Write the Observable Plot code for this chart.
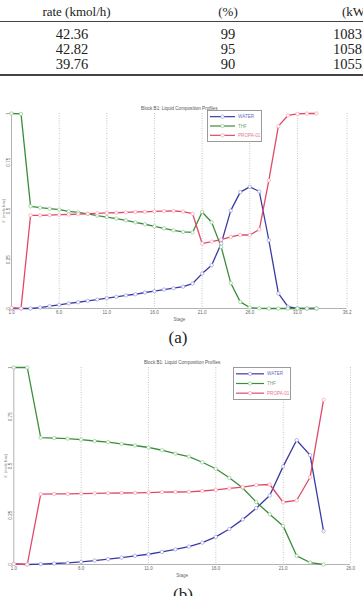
<!DOCTYPE html>
<html>
<head>
<meta charset="utf-8">
<script src="https://cdn.jsdelivr.net/npm/d3@7"></script>
<script src="https://cdn.jsdelivr.net/npm/@observablehq/plot@0.6"></script>
<style>
  html, body { margin: 0; padding: 0; background: #fff; }
  body { width: 363px; height: 596px; position: relative; overflow: hidden;
         font-family: "Liberation Serif", "Times New Roman", serif; color: #222; }
  .abs { position: absolute; }
  .cell { position: absolute; white-space: nowrap; line-height: 12px; height: 12px; }
  .head { font-size: 13px; }
  .val { font-size: 14.5px; }
  .rule { position: absolute; left: 0; width: 363px; background: #444; }
  .caption { position: absolute; font-size: 17px; line-height: 17px; transform: translate(-50%, -50%); white-space: nowrap; }
  .legend { position: absolute; background: #fff; border: 0.8px solid #9a9a9a; box-sizing: border-box; }
  .legend svg { display: block; }
</style>
</head>
<body>
<div id="table"></div>
<div id="chartA" class="abs" style="left:0; top:96px;"></div>
<div id="chartB" class="abs" style="left:0; top:352px;"></div>
<div id="legendA" class="legend" style="left:207px; top:110px; width:55px; height:32px;"></div>
<div id="legendB" class="legend" style="left:233px; top:367px; width:58px; height:33px;"></div>
<div class="caption" style="left:178px; top:337px;">(a)</div>
<div class="caption" style="left:183px; top:594px;">(b)</div>

<script>
// ---- table values ----
const tableHeader = ["rate (kmol/h)", "(%)", "(kW)"];
const flowRate = ["42.36", "42.82", "39.76"];
const purity = ["99", "95", "90"];
const duty = ["1083.0", "1058.5", "1055.4"];

// ---- composition profiles, block B1 ----
const seriesNames = ["WATER", "THF", "PROPA-01"];
const chartTitle = "Block B1: Liquid Composition Profiles";
const xAxisLabel = "Stage";
const yAxisLabel = "X  (mole frac)";
const yTicks = [0, 0.25, 0.5, 0.75, 1];
const yTickLabels = ["0", "0.25", "0.5", "0.75", "1"];

// (a)
const stagesA = [1, 2, 3, 4, 5, 6, 7, 8, 9, 10, 11, 12, 13, 14, 15, 16, 17, 18, 19, 20, 21, 22, 23, 24, 25, 26, 27, 28, 29, 30, 31, 32, 33];
const waterA = [0, 0, 0, 0.005, 0.012, 0.019, 0.026, 0.032, 0.039, 0.046, 0.053, 0.06, 0.067, 0.073, 0.082, 0.089, 0.097, 0.104, 0.112, 0.128, 0.179, 0.222, 0.333, 0.502, 0.597, 0.624, 0.6, 0.35, 0.077, 0.009, 0.001, 0, 0];
const thfA = [1.0, 0.998, 0.524, 0.517, 0.512, 0.507, 0.498, 0.493, 0.485, 0.476, 0.469, 0.461, 0.452, 0.442, 0.432, 0.421, 0.411, 0.401, 0.393, 0.39, 0.495, 0.442, 0.316, 0.131, 0.034, 0.005, 0.001, 0, 0, 0, 0, 0, 0];
const propA = [0.004, 0, 0.478, 0.478, 0.479, 0.481, 0.482, 0.484, 0.486, 0.488, 0.49, 0.491, 0.493, 0.495, 0.496, 0.498, 0.499, 0.5, 0.497, 0.486, 0.333, 0.343, 0.353, 0.367, 0.377, 0.377, 0.405, 0.657, 0.935, 0.99, 0.998, 1.0, 1.0];
const xTicksA = [1, 6, 11, 16, 21, 26, 31, 36.2];

// (b)
const stagesB = [1, 2, 3, 4, 5, 6, 7, 8, 9, 10, 11, 12, 13, 14, 15, 16, 17, 18, 19, 20, 21, 22, 23, 24];
const waterB = [0.003, 0, 0.002, 0.005, 0.008, 0.013, 0.02, 0.027, 0.035, 0.044, 0.052, 0.064, 0.077, 0.091, 0.111, 0.14, 0.18, 0.229, 0.286, 0.35, 0.498, 0.631, 0.555, 0.169];
const thfB = [1.0, 1.0, 0.644, 0.642, 0.639, 0.634, 0.627, 0.621, 0.612, 0.604, 0.594, 0.58, 0.563, 0.548, 0.519, 0.486, 0.44, 0.388, 0.317, 0.255, 0.196, 0.044, 0.01, 0];
const propB = [0.003, 0, 0.357, 0.358, 0.358, 0.36, 0.361, 0.362, 0.363, 0.364, 0.365, 0.367, 0.368, 0.369, 0.373, 0.379, 0.386, 0.393, 0.403, 0.406, 0.316, 0.325, 0.443, 0.836];
const xTicksB = [1, 6, 11, 16, 21, 26];

// ---- styling ----
const lineColors = ["#3a3aa6", "#3b8c3b", "#e04a6a"];
const markerColors = ["#9a9ad6", "#8cc98c", "#f0a0b0"];
const chartFont = "'Liberation Sans', Arial, sans-serif";

// ---- table ----
(function drawTable() {
  const t = document.getElementById("table");
  const add = (cls, text, style) => {
    const d = document.createElement("div");
    d.className = "cell " + cls;
    d.textContent = text;
    Object.assign(d.style, style);
    t.appendChild(d);
  };
  const rowY = [33.5, 48.5, 63.5];
  add("head", tableHeader[0], {left: "76.5px", top: "12px", transform: "translate(-50%,-50%)"});
  add("head", tableHeader[1], {left: "228px", top: "12px", transform: "translate(-50%,-50%)"});
  add("head", tableHeader[2], {left: "342px", top: "12px", transform: "translateY(-50%)"});
  flowRate.forEach((v, i) => add("val", v, {left: "72px", top: rowY[i] + "px", transform: "translate(-50%,-50%)"}));
  purity.forEach((v, i) => add("val", v, {left: "228px", top: rowY[i] + "px", transform: "translate(-50%,-50%)"}));
  duty.forEach((v, i) => add("val", v, {left: "333px", top: rowY[i] + "px", transform: "translateY(-50%)"}));
  const r1 = document.createElement("div"); r1.className = "rule";
  Object.assign(r1.style, {top: "21px", height: "1px"}); t.appendChild(r1);
  const r2 = document.createElement("div"); r2.className = "rule";
  Object.assign(r2.style, {top: "74px", height: "2px"}); t.appendChild(r2);
})();

// ---- chart builder ----
function profileChart({stages, water, thf, prop, xTicks, height, marginLeft, marginRight, marginTop, marginBottom}) {
  const rows = [];
  [water, thf, prop].forEach((vals, k) =>
    vals.forEach((v, i) => rows.push({stage: stages[i], value: v, series: seriesNames[k]})));
  const markerOf = Object.fromEntries(seriesNames.map((s, i) => [s, markerColors[i]]));
  return Plot.plot({
    width: 363, height, marginLeft, marginRight, marginTop, marginBottom,
    x: {domain: [xTicks[0], xTicks[xTicks.length - 1]]},
    y: {domain: [0, 1], axis: null},
    color: {domain: seriesNames, range: lineColors},
    style: {fontFamily: chartFont, background: "transparent", overflow: "visible"},
    marks: [
      Plot.ruleX(xTicks.slice(1), {stroke: "#b8b8b8", strokeWidth: 0.8, strokeDasharray: "1,1.5"}),
      Plot.ruleX([xTicks[0]], {stroke: "#a0a0a0", strokeWidth: 0.8}),
      Plot.ruleY([0], {stroke: "#a0a0a0", strokeWidth: 0.8}),
      Plot.axisX({ticks: xTicks, tickFormat: d3.format(".1f"), tickSize: 0, tickPadding: 2,
                  fontSize: 4.5, fill: "#666", label: null}),
      Plot.text([xAxisLabel], {frameAnchor: "bottom", dy: 12, fontSize: 4.5, fill: "#666"}),
      Plot.text(yTicks, {y: d => d, text: (d, i) => yTickLabels[i], frameAnchor: "left", dx: -1.5,
                         rotate: -90, textAnchor: "middle", lineAnchor: "bottom", fontSize: 4.5, fill: "#666"}),
      Plot.text([yAxisLabel], {frameAnchor: "left", dx: -7, rotate: -90, textAnchor: "middle",
                               lineAnchor: "bottom", fontSize: 4, fill: "#777"}),
      Plot.text([chartTitle], {frameAnchor: "top", dy: -7, fontSize: 4.6, fill: "#555"}),
      Plot.line(rows, {x: "stage", y: "value", z: "series", stroke: "series", strokeWidth: 1.3}),
      Plot.dot(rows, {x: "stage", y: "value", r: 1.7, fill: "white",
                      stroke: d => markerOf[d.series], strokeWidth: 0.7})
    ]
  });
}

document.getElementById("chartA").appendChild(profileChart({
  stages: stagesA, water: waterA, thf: thfA, prop: propA, xTicks: xTicksA,
  height: 230, marginLeft: 11, marginRight: 16.5, marginTop: 17, marginBottom: 18
}));
document.getElementById("chartB").appendChild(profileChart({
  stages: stagesB, water: waterB, thf: thfB, prop: propB, xTicks: xTicksB,
  height: 229, marginLeft: 13.3, marginRight: 13, marginTop: 15, marginBottom: 17
}));

// ---- legends: line with a circle marker, then the series name ----
function legend(id, w, h, lineLen) {
  const svg = d3.create("svg").attr("width", w).attr("height", h);
  const step = (h - 2) / seriesNames.length;
  seriesNames.forEach((name, i) => {
    const y = 1 + step * (i + 0.5);
    svg.append("line").attr("x1", 2).attr("x2", 2 + lineLen).attr("y1", y).attr("y2", y)
      .attr("stroke", lineColors[i]).attr("stroke-width", 1.2);
    svg.append("circle").attr("cx", 2 + lineLen / 2).attr("cy", y).attr("r", 1.7)
      .attr("fill", "white").attr("stroke", markerColors[i]).attr("stroke-width", 0.7);
    svg.append("text").attr("x", 5 + lineLen).attr("y", y).attr("dy", "0.35em")
      .attr("font-family", "Liberation Sans, Arial, sans-serif").attr("font-size", 4.6)
      .attr("fill", lineColors[i]).attr("opacity", 0.75).text(name);
  });
  document.getElementById(id).appendChild(svg.node());
}
legend("legendA", 53, 30, 25);
legend("legendB", 56, 31, 28);
</script>
</body>
</html>
